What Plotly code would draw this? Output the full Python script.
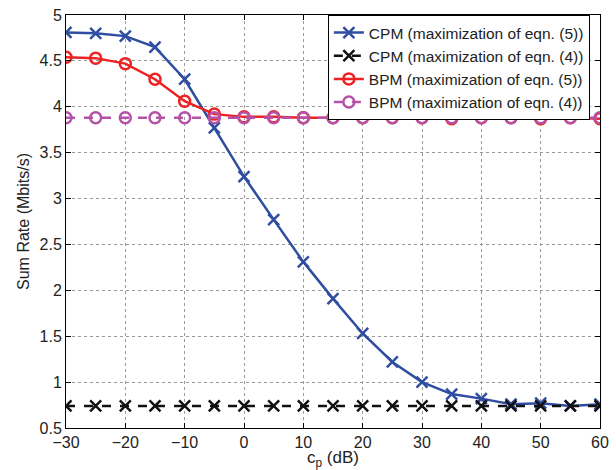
import plotly.graph_objects as go

cp_db = [-30, -25, -20, -15, -10, -5, 0, 5, 10, 15, 20, 25, 30, 35, 40, 45, 50, 55, 60]
cpm_eq5 = [4.81, 4.80, 4.77, 4.65, 4.30, 3.77, 3.24, 2.77, 2.31, 1.91, 1.53, 1.22, 1.00, 0.87, 0.82, 0.76, 0.77, 0.74, 0.76]
cpm_eq4 = [0.74] * 19
bpm_eq5 = [4.54, 4.53, 4.47, 4.30, 4.06, 3.92, 3.89, 3.89, 3.88, 3.88, 3.88, 3.88, 3.88, 3.87, 3.88, 3.88, 3.87, 3.88, 3.87]
bpm_eq4 = [3.88] * 19

names = ["CPM (maximization of eqn. (5))", "CPM (maximization of eqn. (4))",
         "BPM (maximization of eqn. (5))", "BPM (maximization of eqn. (4))"]

fig = go.Figure()
fig.add_trace(go.Scatter(x=cp_db, y=cpm_eq5, name=names[0], mode="lines+markers",
                         line=dict(color="#2F4EA2", width=2.5),
                         marker=dict(symbol="x-thin-open", size=11, line=dict(width=2.5, color="#2F4EA2"))))
fig.add_trace(go.Scatter(x=cp_db, y=cpm_eq4, name=names[1], mode="lines+markers",
                         line=dict(color="#111111", width=2.5, dash="dash"),
                         marker=dict(symbol="x-thin-open", size=11, line=dict(width=2.5, color="#111111"))))
fig.add_trace(go.Scatter(x=cp_db, y=bpm_eq5, name=names[2], mode="lines+markers",
                         line=dict(color="#EE2222", width=2.5),
                         marker=dict(symbol="circle-open", size=11, line=dict(width=2.5, color="#EE2222"))))
fig.add_trace(go.Scatter(x=cp_db, y=bpm_eq4, name=names[3], mode="lines+markers",
                         line=dict(color="#B452A8", width=2.5, dash="dash"),
                         marker=dict(symbol="circle-open", size=11, line=dict(width=2.5, color="#B452A8"))))

axis_common = dict(showline=True, linecolor="black", linewidth=1, mirror="ticks",
                   ticks="inside", ticklen=5, tickcolor="black", automargin=False,
                   showgrid=True, gridcolor="#9a9a9a", griddash="dot", gridwidth=1,
                   zeroline=False, tickfont=dict(size=16, color="#222"))

fig.update_layout(
    width=616, height=470,
    margin=dict(l=66, r=16, t=15, b=42),
    paper_bgcolor="white", plot_bgcolor="white",
    font=dict(family="Liberation Sans, Arial, sans-serif", size=16, color="#222"),
    xaxis=dict(range=[-30, 60], tickvals=list(range(-30, 61, 10)),
               title=dict(text="c<sub>p</sub> (dB)", standoff=0, font=dict(size=17)), **axis_common),
    yaxis=dict(range=[0.5, 5], tickvals=[0.5, 1, 1.5, 2, 2.5, 3, 3.5, 4, 4.5, 5],
               ticktext=["0.5", "1", "1.5", "2", "2.5", "3", "3.5", "4", "4.5", "5"],
               title=dict(text="Sum Rate (Mbits/s)", standoff=5, font=dict(size=16)), **axis_common),
    legend=dict(x=0.981, y=1.0, xanchor="right", yanchor="top",
                bgcolor="white", bordercolor="black", borderwidth=1,
                font=dict(size=15.5), tracegroupgap=0),
    showlegend=True,
)

fig.write_html("out.html", config={"displayModeBar": False},
               post_script="document.body.style.margin='0';")
